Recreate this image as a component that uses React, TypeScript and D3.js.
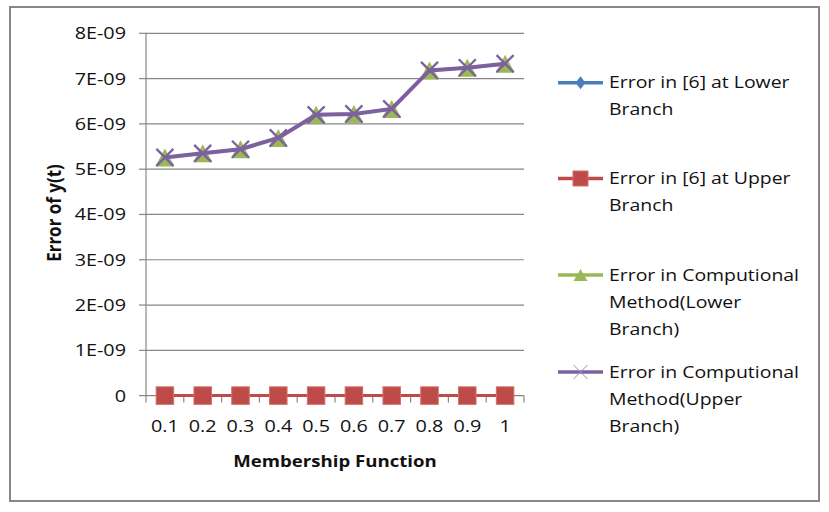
import React from 'react';
import * as d3 from 'd3';

const categories = ['0.1', '0.2', '0.3', '0.4', '0.5', '0.6', '0.7', '0.8', '0.9', '1'];
const lowerRef = [0, 0, 0, 0, 0, 0, 0, 0, 0, 0];
const upperRef = [0, 0, 0, 0, 0, 0, 0, 0, 0, 0];
const compLower = [5.26e-9, 5.35e-9, 5.44e-9, 5.69e-9, 6.2e-9, 6.22e-9, 6.33e-9, 7.18e-9, 7.24e-9, 7.33e-9];
const compUpper = [5.26e-9, 5.35e-9, 5.44e-9, 5.69e-9, 6.2e-9, 6.22e-9, 6.33e-9, 7.18e-9, 7.24e-9, 7.33e-9];
const yTicks = [0, 1e-9, 2e-9, 3e-9, 4e-9, 5e-9, 6e-9, 7e-9, 8e-9];
const yTickLabels = ['0', '1E-09', '2E-09', '3E-09', '4E-09', '5E-09', '6E-09', '7E-09', '8E-09'];
const legendLabels = [
  ['Error in [6] at Lower', 'Branch'],
  ['Error in [6] at Upper', 'Branch'],
  ['Error in Computional', 'Method(Lower', 'Branch)'],
  ['Error in Computional', 'Method(Upper', 'Branch)'],
];

const W = 829;
const H = 512;
const FONT = '"Open Sans", "Noto Sans", sans-serif';
const SX = 1.2; // picture is stretched sideways
const GRID = '#878787';
const BLUE = '#4A7EBB';
const RED = '#BE4B48';
const GREEN = '#98B954';
const PURPLE = '#7D60A0';

const T = ({ x, y, anchor = 'start', size = 16.5, bold = false, children }: any) => (
  <text
    transform={`translate(${x},${y}) scale(${SX},1)`}
    textAnchor={anchor}
    fontFamily={FONT}
    fontSize={size}
    fontWeight={bold ? 'bold' : 'normal'}
    fill="#111"
  >
    {children}
  </text>
);

const Diamond = ({ cx, cy, w = 5, h = 6.5, fill }: any) => (
  <path d={`M${cx},${cy - h}L${cx + w},${cy}L${cx},${cy + h}L${cx - w},${cy}Z`} fill={fill} />
);
const Square = ({ cx, cy, s = 17.5 }: any) => (
  <rect x={cx - s / 2} y={cy - s / 2} width={s} height={s} fill={RED} stroke="#D0706D" strokeWidth={1} />
);
const Tri = ({ cx, cy, w = 19, h = 16 }: any) => (
  <path d={`M${cx},${cy - h / 2 - 1}L${cx + w / 2},${cy + h / 2 + 1}L${cx - w / 2},${cy + h / 2 + 1}Z`} fill={GREEN} />
);
const Cross = ({ cx, cy, r = 8.5, stroke = PURPLE, sw = 2.3 }: any) => (
  <path d={`M${cx - r},${cy - r}L${cx + r},${cy + r}M${cx - r},${cy + r}L${cx + r},${cy - r}`} stroke={stroke} strokeWidth={sw} />
);

export default function App() {
  const left = 146;
  const right = 524;
  const top = 33.3;
  const bottom = 395.6;

  const x = d3.scaleBand().domain(categories).range([left, right]);
  const cx = (c: string) => (x(c) as number) + x.bandwidth() / 2;
  const y = d3.scaleLinear().domain([0, 8e-9]).range([bottom, top]);

  const line = d3
    .line<number>()
    .x((_, i) => cx(categories[i]))
    .y((d) => y(d));

  const boundaries = d3.range(categories.length + 1).map((i) => left + i * x.bandwidth());

  const legX = 558;
  const legTextX = 609;
  const legMarkY = [82.7, 178.5, 275, 372];
  const lineGap = 27.2;

  return (
    <svg width={W} height={H} style={{ position: 'absolute', left: 0, top: 0, background: '#fff' }}>
      <rect x={10} y={7} width={809} height={494} fill="#fff" stroke={GRID} strokeWidth={2} />

      {/* gridlines */}
      {yTicks.map((t, i) => (
        <g key={i}>
          {i > 0 && <line x1={left} x2={right} y1={y(t)} y2={y(t)} stroke={GRID} strokeWidth={1.2} />}
          <line x1={left - 7} x2={left} y1={y(t)} y2={y(t)} stroke={GRID} strokeWidth={1.2} />
          <T x={126} y={y(t) + 6} anchor="end">{yTickLabels[i]}</T>
        </g>
      ))}

      {/* axes */}
      <line x1={left} x2={left} y1={top} y2={bottom} stroke={GRID} strokeWidth={1.2} />
      <line x1={left} x2={right} y1={bottom} y2={bottom} stroke={GRID} strokeWidth={1.2} />
      {boundaries.map((b, i) => (
        <line key={i} x1={b} x2={b} y1={bottom} y2={bottom + 7} stroke={GRID} strokeWidth={1.2} />
      ))}
      {categories.map((c) => (
        <T key={c} x={cx(c)} y={432} anchor="middle">{c}</T>
      ))}

      {/* series */}
      <path d={line(lowerRef) || ''} fill="none" stroke={BLUE} strokeWidth={3} />
      {lowerRef.map((v, i) => (
        <Diamond key={i} cx={cx(categories[i])} cy={y(v)} h={9.5} fill={BLUE} />
      ))}
      <path d={line(upperRef) || ''} fill="none" stroke={RED} strokeWidth={3} />
      {upperRef.map((v, i) => (
        <Square key={i} cx={cx(categories[i])} cy={y(v)} />
      ))}
      <path d={line(compLower) || ''} fill="none" stroke={GREEN} strokeWidth={3} />
      {compLower.map((v, i) => (
        <Tri key={i} cx={cx(categories[i])} cy={y(v)} />
      ))}
      <path d={line(compUpper) || ''} fill="none" stroke={PURPLE} strokeWidth={4} />
      {compUpper.map((v, i) => (
        <Cross key={i} cx={cx(categories[i])} cy={y(v)} />
      ))}

      {/* axis titles */}
      <text
        transform={`translate(61,213) rotate(-90) scale(1,${SX})`}
        textAnchor="middle"
        fontFamily={FONT}
        fontSize={17}
        fontWeight="bold"
        fill="#111"
      >
        Error of y(t)
      </text>
      <T x={335} y={467} anchor="middle" bold size={15.5}>Membership Function</T>

      {/* legend */}
      {legendLabels.map((lines, k) => {
        const my = legMarkY[k];
        const color = [BLUE, RED, GREEN, PURPLE][k];
        const mx = (legX + 603) / 2;
        return (
          <g key={k}>
            <line x1={legX} x2={603} y1={my} y2={my} stroke={color} strokeWidth={3.5} />
            {k === 0 && <Diamond cx={mx} cy={my} fill={BLUE} />}
            {k === 1 && <Square cx={mx} cy={my} s={15} />}
            {k === 2 && <Tri cx={mx} cy={my} w={14} h={10} />}
            {k === 3 && <Cross cx={mx} cy={my} r={7} stroke="#A08CC0" sw={1} />}
            {lines.map((s, j) => (
              <T key={j} x={legTextX} y={my + 5.5 + j * lineGap} size={16.2}>{s}</T>
            ))}
          </g>
        );
      })}
    </svg>
  );
}
